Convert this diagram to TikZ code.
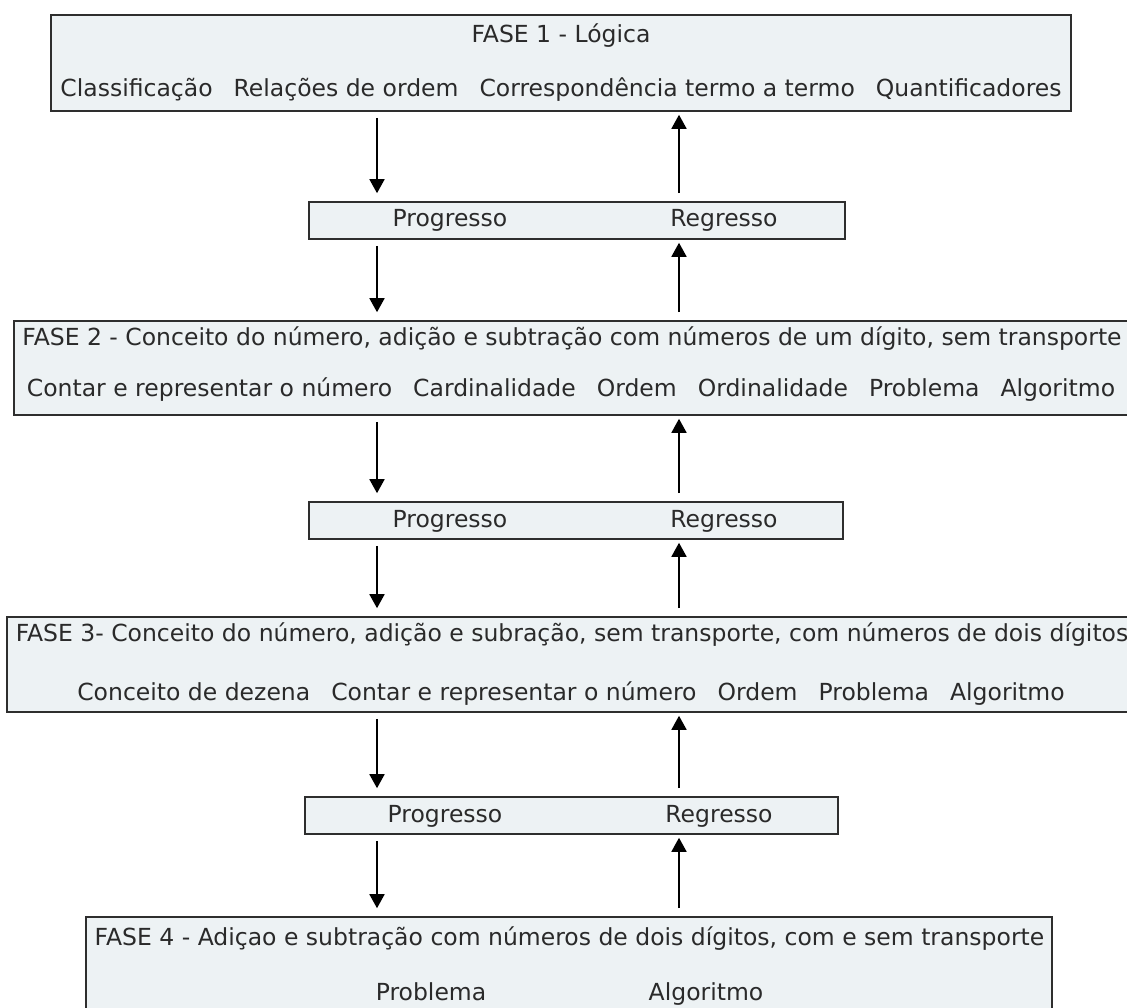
\documentclass[tikz,border=0pt]{standalone}
\usepackage{fontspec}
\setmainfont{DejaVu Sans}
\usetikzlibrary{arrows.meta}
\definecolor{boxfill}{HTML}{EDF2F4}
\definecolor{boxline}{HTML}{2E2E2E}
\definecolor{txt}{HTML}{2A2A2A}
\newcommand{\gp}{\hspace{21pt}}
\begin{document}
\begin{tikzpicture}[x=1pt,y=-1pt,
  phasebox/.style={draw=boxline, line width=1.6pt, fill=boxfill, inner sep=0pt},
  label/.style={text=txt, inner sep=0pt, anchor=base, font=\fontsize{23.5pt}{28pt}\selectfont},
  arr/.style={draw=black, line width=1.7pt, -{Triangle[width=15pt,length=14pt]}},
  dnarr/.style={arr, shorten <=6pt, shorten >=8pt},
  uparr/.style={arr, shorten <=8pt, shorten >=3pt}]
\useasboundingbox (0,0) rectangle (1127,1008);
\fill[white] (0,0) rectangle (1127,1008);

% coordinates of the two arrow columns
\coordinate (dn) at (377,0);
\coordinate (up) at (679,0);

% FASE 1
\node[phasebox, minimum width=1020pt, minimum height=96pt] (b1) at (561,63) {};
\node[label] (b1t) at (561,43) {FASE 1 - Lógica};
\node[label] (b1l) at (561,97) {Classificação\gp Relações de ordem\gp Correspondência termo a termo\gp Quantificadores};

% small box 1
\node[phasebox, minimum width=536pt, minimum height=37pt] (s1) at (577,220.5) {};
\node[label] (s1p) at (450,227) {Progresso};
\node[label] (s1r) at (724,227) {Regresso};

% FASE 2
\node[phasebox, minimum width=1121pt, minimum height=94pt] (b2) at (574.5,368) {};
\node[label] (b2t) at (572,345.5) {FASE 2 - Conceito do número, adição e subtração com números de um dígito, sem transporte};
\node[label] (b2l) at (571,396.5) {Contar e representar o número\gp Cardinalidade\gp Ordem\gp Ordinalidade\gp Problema\gp Algoritmo};

% small box 2
\node[phasebox, minimum width=534pt, minimum height=37pt] (s2) at (576,520.5) {};
\node[label] (s2p) at (450,527) {Progresso};
\node[label] (s2r) at (724,527) {Regresso};

% FASE 3
\node[phasebox, minimum width=1128pt, minimum height=95pt] (b3) at (571,664.5) {};
\node[label] (b3t) at (572,641.5) {FASE 3- Conceito do número, adição e subração, sem transporte, com números de dois dígitos};
\node[label] (b3l) at (571,700.5) {Conceito de dezena\gp Contar e representar o número\gp Ordem\gp Problema\gp Algoritmo};

% small box 3
\node[phasebox, minimum width=533pt, minimum height=37pt] (s3) at (571.5,815.5) {};
\node[label] (s3p) at (445,822) {Progresso};
\node[label] (s3r) at (719,822) {Regresso};

% FASE 4
\node[phasebox, minimum width=966pt, minimum height=110pt] (b4) at (569,972) {};
\node[label] (b4t) at (569.5,945.5) {FASE 4 - Adiçao e subtração com números de dois dígitos, com e sem transporte};
\node[label] (b4p) at (431,1000.5) {Problema};
\node[label] (b4a) at (706,1000.5) {Algoritmo};

% progress arrows (down)
\draw[dnarr] (b1.south -| dn) -- (s1.north -| dn);
\draw[dnarr] (s1.south -| dn) -- (b2.north -| dn);
\draw[dnarr] (b2.south -| dn) -- (s2.north -| dn);
\draw[dnarr] (s2.south -| dn) -- (b3.north -| dn);
\draw[dnarr] (b3.south -| dn) -- (s3.north -| dn);
\draw[dnarr] (s3.south -| dn) -- (b4.north -| dn);

% regress arrows (up)
\draw[uparr] (s1.north -| up) -- (b1.south -| up);
\draw[uparr] (b2.north -| up) -- (s1.south -| up);
\draw[uparr] (s2.north -| up) -- (b2.south -| up);
\draw[uparr] (b3.north -| up) -- (s2.south -| up);
\draw[uparr] (s3.north -| up) -- (b3.south -| up);
\draw[uparr] (b4.north -| up) -- (s3.south -| up);
\end{tikzpicture}
\end{document}
